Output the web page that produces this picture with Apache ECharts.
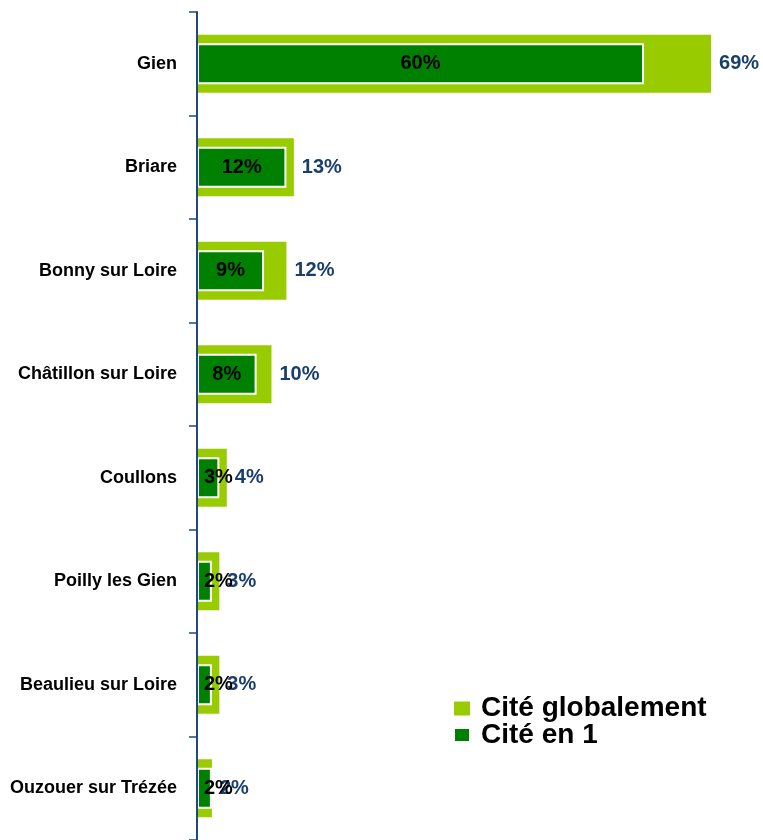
<!DOCTYPE html>
<html>
<head>
<meta charset="utf-8">
<script src="https://cdn.jsdelivr.net/npm/echarts@6/dist/echarts.min.js"></script>
<style>
  html, body { margin: 0; padding: 0; background: #ffffff; }
  #chart { width: 763px; height: 840px; }
</style>
</head>
<body>
<div id="chart"></div>
<script>
// Communes, top to bottom
const communes = [
  'Gien', 'Briare', 'Bonny sur Loire', 'Châtillon sur Loire',
  'Coullons', 'Poilly les Gien', 'Beaulieu sur Loire', 'Ouzouer sur Trézée'
];
// Share of respondents citing each commune (%)
const citeGlobalement = [69, 13, 12, 10, 4, 3, 3, 2];
const citeEn1 = [60, 12, 9, 8, 3, 2, 2, 2];

const FONT = "'Liberation Sans', Arial, Helvetica, sans-serif";
const LIGHT = '#99CC00';
const DARK = '#008000';
const NAVY = '#1A3E6E';
const AXIS = '#1F4A7A';

const chart = echarts.init(document.getElementById('chart'), null, { renderer: 'canvas' });

// Short dark bars keep their label anchored just right of the axis
const en1Data = citeEn1.map(v => ({
  value: v,
  label: v < 5 ? { position: 'insideLeft', distance: 7 } : { position: 'inside' }
}));

chart.setOption({
  animation: false,
  backgroundColor: '#ffffff',
  grid: { left: 197, top: 12, width: 521.5, height: 832 },
  xAxis: {
    type: 'value', min: 0, max: 70, show: false,
    splitLine: { show: false }
  },
  yAxis: [
    {
      type: 'category',
      data: communes,
      inverse: true,
      z: 10,
      axisLine: { show: true, lineStyle: { color: AXIS, width: 2 } },
      axisTick: { show: true, length: 8, lineStyle: { color: AXIS, width: 1.5 } },
      axisLabel: {
        color: '#000000', fontFamily: FONT, fontWeight: 'bold', fontSize: 18, margin: 20
      }
    },
    {
      // second band scale so the inner bars sit centred on the outer ones
      type: 'category',
      data: communes,
      inverse: true,
      position: 'left',
      show: false
    }
  ],
  legend: {
    orient: 'vertical',
    left: 448, top: 689.5,
    itemWidth: 16, itemHeight: 14, itemGap: -1.5,
    icon: 'rect',
    textStyle: {
      fontFamily: FONT, fontWeight: 'bold', fontSize: 28, color: '#000000',
      padding: [0, 0, 0, 6]
    },
    data: ['Cité globalement', 'Cité en 1']
  },
  series: [
    {
      name: 'Cité globalement',
      type: 'bar',
      yAxisIndex: 0,
      data: citeGlobalement,
      barWidth: 58,
      itemStyle: { color: LIGHT },
      label: {
        show: true, position: 'right', distance: 8,
        formatter: '{c}%',
        color: NAVY, fontFamily: FONT, fontWeight: 'bold', fontSize: 20
      },
      z: 2
    },
    {
      name: 'Cité en 1',
      type: 'bar',
      yAxisIndex: 1,
      data: en1Data,
      barWidth: 41,
      itemStyle: { color: DARK, borderColor: '#ffffff', borderWidth: 2 },
      label: {
        show: true,
        formatter: '{c}%',
        color: '#000000', fontFamily: FONT, fontWeight: 'bold', fontSize: 20
      },
      z: 3
    }
  ]
});
</script>
</body>
</html>
